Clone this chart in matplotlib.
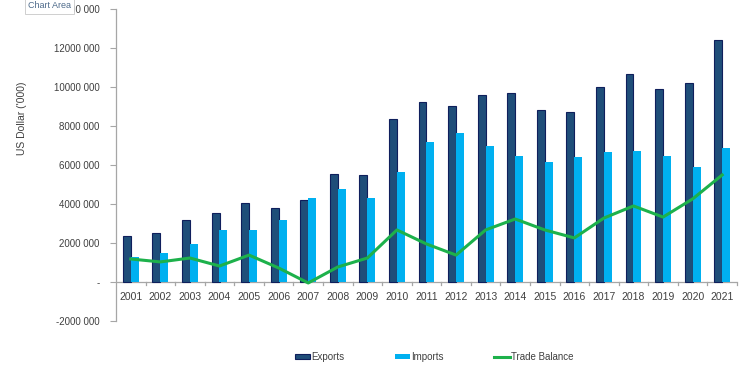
import matplotlib
matplotlib.use("Agg")
import matplotlib.pyplot as plt
import numpy as np

years = [str(y) for y in range(2001, 2022)]
exports = [2.36, 2.51, 3.18, 3.54, 4.05, 3.79, 4.20, 5.54, 5.49, 8.36, 9.23,
           9.03, 9.59, 9.69, 8.82, 8.72, 10.00, 10.67, 9.90, 10.20, 12.40]
imports = [1.28, 1.49, 1.95, 2.67, 2.67, 3.18, 4.31, 4.77, 4.31, 5.64, 7.18,
           7.64, 6.97, 6.46, 6.15, 6.41, 6.67, 6.72, 6.46, 5.90, 6.87]
balance = [1.18, 1.03, 1.23, 0.82, 1.38, 0.72, -0.05, 0.77, 1.23, 2.67, 1.95,
           1.38, 2.67, 3.23, 2.67, 2.26, 3.28, 3.90, 3.33, 4.26, 5.49]
yticks = [-2, 0, 2, 4, 6, 8, 10, 12, 14]
ytick_labels = ["-2000 000", "-", "2000 000", "4000 000", "6000 000", "8000 000",
                "10000 000", "12000 000", "14000 000"]

plt.rcParams['font.family'] = ['Liberation Sans', 'DejaVu Sans']

fig = plt.figure(figsize=(7.5, 3.75), dpi=100)
ax = fig.add_axes([116/750, 1-321/375, (737-116)/750, (321-9)/375])

x = np.arange(len(years))
w = 0.27
h1 = ax.bar(x - w/2, exports, width=w, color='#1F4E79', edgecolor='#0F1F5C',
            linewidth=0.8, label='Exports', zorder=2)
h2 = ax.bar(x + w/2, imports, width=w, color='#00B0F0', label='Imports', zorder=2)
h3, = ax.plot(x, balance, color='#1DB14B', linewidth=2.2, label='Trade Balance', zorder=3)

ax.set_xlim(-0.5, len(years) - 0.5)
ax.set_ylim(-2, 14)
ax.set_yticks(yticks)
ax.set_yticklabels(ytick_labels, fontsize=7, color='#404040')
ax.tick_params(axis='y', length=4, width=0.8, color='#A6A6A6', pad=8)

for s in ['top', 'right', 'bottom']:
    ax.spines[s].set_visible(False)
ax.spines['left'].set_color('#A6A6A6')
ax.spines['left'].set_linewidth(0.9)
ax.axhline(0, color='#A6A6A6', linewidth=0.9, zorder=1)

ax.set_xticks(x)
ax.set_xticklabels([])
ax.tick_params(axis='x', length=0)
for i, yr in enumerate(years):
    ax.text(i, -0.5, yr, ha='center', va='top', fontsize=7.5, color='#404040')
for b in np.arange(0.5, len(years), 1.0):
    ax.plot([b, b], [0, -0.15], color='#A6A6A6', linewidth=0.9, clip_on=False, zorder=1)

fig.text(22/750, 1-118/375, "US Dollar ('000)", rotation=90, ha='center', va='center',
         fontsize=7.5, color='#404040')

leg = fig.legend(handles=[h1, h2, h3], labels=['Exports', 'Imports', 'Trade Balance'],
                 loc='center', bbox_to_anchor=(434/750, 1-357/375), ncol=3,
                 frameon=False, fontsize=7, handlelength=1.6, handleheight=0.5,
                 columnspacing=5.2, handletextpad=0.1)
for t in leg.get_texts():
    t.set_color('#404040')

fig.text(28/750, 1-6/375, "Chart Area", ha='left', va='center', fontsize=6.5,
         color='#4D6A8A', zorder=10,
         bbox=dict(boxstyle='square,pad=0.35', fc='white', ec='#C8C8C8', lw=0.6))

fig.savefig('out.png', dpi=100)
